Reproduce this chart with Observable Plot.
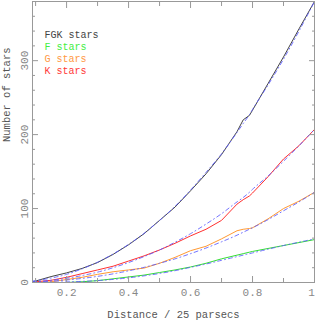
<!DOCTYPE html>
<html>
<head>
<meta charset="utf-8">
<script src="https://cdn.jsdelivr.net/npm/d3@7"></script>
<script src="https://cdn.jsdelivr.net/npm/@observablehq/plot@0.6"></script>
<style>
  html, body { margin: 0; padding: 0; background: white; }
</style>
</head>
<body>
<div id="chart"></div>
<script>
const dist   = [0.09,0.1,0.15,0.2,0.25,0.3,0.35,0.4,0.45,0.5,0.55,0.6,0.65,0.7,0.75,0.77,0.79,0.8,0.85,0.9,0.95,1.0];
const fgk    = [1,2,8,13,19,27,38,51,66,84,102,124,147,173,204,220,226,233,269,305,343,380];
const fgkFit = [2,2.5,6,11,18.5,27.5,38.5,51.5,66.5,84,103,125,149,174,203,215,227,234,267,302,340,380];
const kStars = [0,1,3,7,12,17,22,29,36,44,53,63,72,84,106,112,117,121,143,167,185,207];
const kFit   = [1,1.2,3,5.7,9.4,14,20,27,35,44,54.5,66,79,93,109,115,122,126,144,164,185,207];
const gStars = [0,0,1,4,7,11,14.5,17,19.5,26,34,43,49,59,70,72,73,74,86,100,110,122];
const gFit   = [0.6,0.7,1.8,3.4,5.5,8.3,11.7,15.8,20.5,26,32,39,46.6,55,64,68,72,74,85,97,109,122];
const fStars = [0,0,0,0,1,2.5,5,7.5,10,13.5,17,21,26,32,37,39,41,42,46,50,54,58];
const fFit   = [0,0,0.3,0.8,1.5,2.6,4.2,6.3,9,12.2,16,20.5,25,30,35,37,39,40,45,50,54.5,59];

const xMajor = [0.2,0.4,0.6,0.8,1.0];
const xMinor = [0.1,0.3,0.5,0.7,0.9];
const yMajor = [0,100,200,300];
const yMinor = [20,40,60,80,120,140,160,180,220,240,260,280,320,340,360];

const legendLabels = ["FGK stars","F stars","G stars","K stars"];
const legendColors = ["#444444","#44ee44","#ff9944","#ff3838"];

const xLabel = "Distance / 25 parsecs";
const yLabel = "Number of stars";

const series = [
  {vals: fStars, color: "#33dd33"},
  {vals: gStars, color: "#ff9933"},
  {vals: kStars, color: "#ff3030"},
  {vals: fgk,    color: "#444444"}
];
const fits = [fFit, gFit, kFit, fgkFit];

const toRows = vals => dist.map((d, i) => ({d, n: vals[i]}));

const tickStroke = "#999";
const marks = [];

for (const s of series) {
  marks.push(Plot.line(toRows(s.vals), {x: "d", y: "n", stroke: s.color, strokeWidth: 1}));
}
for (const f of fits) {
  marks.push(Plot.line(toRows(f), {x: "d", y: "n", stroke: "#5c5cff", strokeWidth: 1, strokeOpacity: 0.85, strokeDasharray: "4,3,1,3", curve: "monotone-x"}));
}

marks.push(Plot.frame({stroke: tickStroke}));

const noText = () => "";
marks.push(
  Plot.axisX(xMajor, {anchor: "bottom", tickSize: 6, dy: -6, tickFormat: noText, label: null, stroke: tickStroke}),
  Plot.axisX(xMinor, {anchor: "bottom", tickSize: 4, dy: -4, tickFormat: noText, label: null, stroke: tickStroke}),
  Plot.axisX(xMajor, {anchor: "top", tickSize: 6, dy: 6, tickFormat: noText, label: null, stroke: tickStroke}),
  Plot.axisX(xMinor, {anchor: "top", tickSize: 4, dy: 4, tickFormat: noText, label: null, stroke: tickStroke}),
  Plot.axisY(yMajor, {anchor: "left", tickSize: 6, dx: 6, tickFormat: noText, label: null, stroke: tickStroke}),
  Plot.axisY(yMinor, {anchor: "left", tickSize: 3, dx: 3, tickFormat: noText, label: null, stroke: tickStroke}),
  Plot.axisY(yMajor, {anchor: "right", tickSize: 6, dx: -6, tickFormat: noText, label: null, stroke: tickStroke}),
  Plot.axisY(yMinor, {anchor: "right", tickSize: 3, dx: -3, tickFormat: noText, label: null, stroke: tickStroke})
);

const lastX = xMajor[xMajor.length - 1];
marks.push(
  Plot.axisX(xMajor.filter(v => v !== lastX), {anchor: "bottom", tickSize: 0, tickPadding: 6, label: null, fill: "#888", fontSize: 11, tickFormat: d => String(d)}),
  Plot.axisX([lastX], {anchor: "bottom", tickSize: 0, tickPadding: 6, dx: -3, label: null, fill: "#888", fontSize: 11, tickFormat: d => String(d)}),
  Plot.axisY(yMajor, {anchor: "left", tickSize: 0, tickPadding: 5, tickRotate: -90, label: null, fill: "#888", fontSize: 11})
);

marks.push(
  Plot.text([xLabel], {frameAnchor: "bottom", dy: 32, lineAnchor: "middle", text: d => d, fill: "#555", fontSize: 10.5}),
  Plot.text([yLabel], {frameAnchor: "left", dx: -26, rotate: -90, lineAnchor: "middle", text: d => d, fill: "#555", fontSize: 10.5})
);

legendLabels.forEach((lab, i) => {
  marks.push(Plot.text([lab], {frameAnchor: "top-left", dx: 12, dy: 33 + i * 12.2, lineAnchor: "middle", text: d => d, fill: legendColors[i], textAnchor: "start", fontSize: 10}));
});

const chart = Plot.plot({
  width: 315,
  height: 321,
  marginLeft: 32,
  marginRight: 1,
  marginTop: 1,
  marginBottom: 39,
  x: {domain: [0.09, 1.0]},
  y: {domain: [0, 380]},
  style: {fontFamily: "'Courier New', 'Liberation Mono', monospace", fontSize: "10px", background: "white", overflow: "visible"},
  marks
});
document.getElementById("chart").appendChild(chart);
</script>
</body>
</html>
